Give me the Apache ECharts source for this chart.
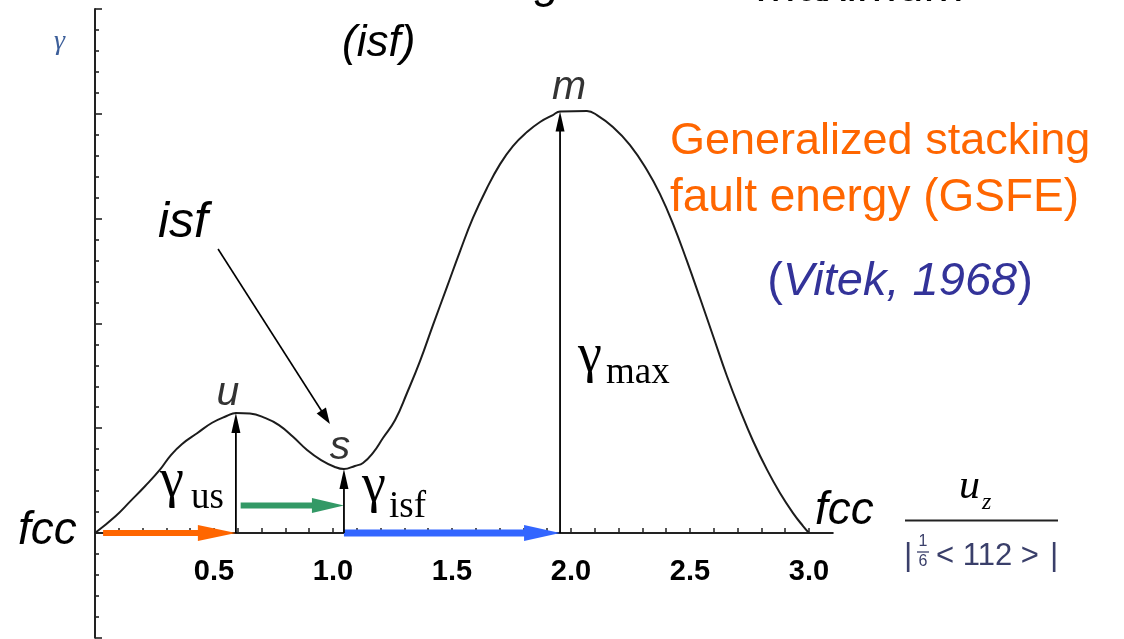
<!DOCTYPE html>
<html>
<head>
<meta charset="utf-8">
<title>Generalized stacking fault energy (GSFE)</title>
<script src="https://cdn.jsdelivr.net/npm/echarts@6.0.0/dist/echarts.min.js"></script>
<style>
  html, body { margin: 0; padding: 0; background: #ffffff; }
  #chart { width: 1124px; height: 639px; }
</style>
</head>
<body>
<div id="chart"></div>
<script>
// GSFE curve: displacement u_z in units of |1/6<112>| versus energy gamma (arb. units)
const gsfeX = [0.000, 0.086, 0.148, 0.210, 0.273, 0.319, 0.366, 0.429, 0.492, 0.553,
               0.592, 0.651, 0.714, 0.773, 0.832, 0.891, 0.950, 1.008, 1.046, 1.092,
               1.126, 1.168, 1.210, 1.261, 1.311, 1.366, 1.420, 1.479, 1.534, 1.588,
               1.647, 1.702, 1.756, 1.815, 1.870, 1.924, 1.954, 2.067, 2.109, 2.176,
               2.248, 2.319, 2.374, 2.429, 2.487, 2.542, 2.597, 2.655, 2.710, 2.765,
               2.824, 2.878, 2.933, 2.975, 3.000];
const gsfeY = [0.000, 0.080, 0.151, 0.223, 0.302, 0.372, 0.425, 0.476, 0.526, 0.558,
               0.573, 0.570, 0.549, 0.515, 0.459, 0.396, 0.348, 0.315, 0.305, 0.320,
               0.334, 0.382, 0.453, 0.539, 0.668, 0.821, 0.992, 1.174, 1.345, 1.503,
               1.646, 1.760, 1.846, 1.913, 1.961, 1.994, 2.011, 2.013, 1.994, 1.937,
               1.851, 1.732, 1.617, 1.474, 1.298, 1.121, 0.940, 0.749, 0.587, 0.439,
               0.301, 0.191, 0.095, 0.033, 0.000];

// Characteristic points of the curve: unstable (u), intrinsic fault (s), maximum (m)
const keyNames = ['u', 's', 'm'];
const keyX = [0.592, 1.046, 1.954];
const keyY = [0.573, 0.305, 2.011];

// Tick labels of the displacement axis
const xTickValues = [0.5, 1.0, 1.5, 2.0, 2.5, 3.0];
const xTickLabels = ['0.5', '1.0', '1.5', '2.0', '2.5', '3.0'];

// Slip path (fcc -> u -> s -> m) and the annotation pointer to the isf point
const slipStartX = 0.034;
const slipUsLevel = 0.131;
const isfPointerFrom = [0.517, 1.355];
const isfPointerTo = [0.987, 0.520];

const SANS = '"Liberation Sans", Arial, sans-serif';
const SERIF = '"Liberation Serif", "Times New Roman", serif';

const U = [keyX[0], keyY[0]], S = [keyX[1], keyY[1]], M = [keyX[2], keyY[2]];
const arrowSegments = [
  [slipStartX, 0, U[0], 0],
  [U[0] + 0.02, slipUsLevel, S[0], slipUsLevel],
  [S[0], 0, M[0], 0],
  [U[0], 0, U[0], U[1]],
  [S[0], 0, S[0], S[1]],
  [M[0], 0, M[0], M[1]],
  [isfPointerFrom[0], isfPointerFrom[1], isfPointerTo[0], isfPointerTo[1]]
];
const arrowKinds = ['orange', 'green', 'blue', 'gamma', 'gamma', 'gamma', 'pointer'];
const arrowStyles = {
  orange:  { color: '#ff6600', width: 6,   headLen: 38, headW: 16 },
  green:   { color: '#339966', width: 6,   headLen: 32, headW: 15 },
  blue:    { color: '#3366ff', width: 7,   headLen: 36, headW: 16 },
  gamma:   { color: '#000000', width: 1.8, headLen: 20, headW: 9 },
  pointer: { color: '#000000', width: 1.6, headLen: 16, headW: 11 }
};

function renderArrow(params, api) {
  const a = api.coord([api.value(0), api.value(1)]);
  const b = api.coord([api.value(2), api.value(3)]);
  const st = arrowStyles[arrowKinds[params.dataIndex]];
  const dx = b[0] - a[0], dy = b[1] - a[1];
  const len = Math.hypot(dx, dy) || 1;
  const ux = dx / len, uy = dy / len, px = -uy, py = ux;
  const bx = b[0] - ux * st.headLen, by = b[1] - uy * st.headLen;
  const sx = b[0] - ux * st.headLen * 0.5, sy = b[1] - uy * st.headLen * 0.5;
  const hw = st.headW / 2;
  return {
    type: 'group',
    children: [
      { type: 'line', shape: { x1: a[0], y1: a[1], x2: sx, y2: sy },
        style: { stroke: st.color, lineWidth: st.width } },
      { type: 'polygon',
        shape: { points: [[b[0], b[1]], [bx + px * hw, by + py * hw], [bx - px * hw, by - py * hw]] },
        style: { fill: st.color } }
    ]
  };
}

// Free-standing text of the diagram
function txt(text, x, y, font, fill, align) {
  return {
    type: 'text', silent: true,
    style: { text: text, x: x, y: y, font: font, fill: fill, align: align || 'left', verticalAlign: 'middle' }
  };
}
const italic = (size) => 'italic ' + size + 'px ' + SANS;
const serif = (size) => size + 'px ' + SERIF;
const DENOM = '#3a3f6a';

const graphics = [
  txt('Intrinsic stacking', 560, -16, italic(46), '#000', 'right'),
  txt('maximum', 758, -12.6, italic(48), '#000'),
  txt('(isf)', 342, 44, italic(44), '#000'),
  txt('isf', 158, 223, italic(50), '#000'),
  txt('γ', 54, 42, 'italic 28px ' + SERIF, '#3d5f9a'),
  txt('fcc', 18, 531, italic(46), '#000'),
  txt('fcc', 815, 511, italic(46), '#000'),
  txt('Generalized stacking', 670, 142, '45px ' + SANS, '#ff6600'),
  txt('fault energy (GSFE)', 670, 198, '46px ' + SANS, '#ff6600'),
  {
    type: 'text', silent: true,
    style: {
      text: '{n|(}{i|Vitek, 1968}{n|)}', x: 900, y: 282, align: 'center', verticalAlign: 'middle',
      rich: {
        n: { font: '47px ' + SANS, fill: '#333399' },
        i: { font: italic(47), fill: '#333399' }
      }
    }
  },
  txt('γ', 160, 482, serif(54), '#000'),
  txt('us', 191, 498, serif(37), '#000'),
  txt('γ', 362, 487, serif(54), '#000'),
  txt('isf', 389, 507, serif(37), '#000'),
  txt('γ', 578, 357, serif(54), '#000'),
  txt('max', 606, 373, serif(37), '#000'),
  // axis quantity: u_z / |1/6 <112>|
  txt('u', 959, 487, 'italic 42px ' + SERIF, '#000'),
  txt('z', 982, 503, 'italic 24px ' + SERIF, '#000'),
  { type: 'line', silent: true, shape: { x1: 905, y1: 520.5, x2: 1058, y2: 520.5 },
    style: { stroke: '#222', lineWidth: 2 } },
  txt('|', 904, 556, '32px ' + SANS, DENOM),
  txt('1', 923, 542, '16px ' + SANS, DENOM, 'center'),
  { type: 'line', silent: true, shape: { x1: 917, y1: 552, x2: 929, y2: 552 },
    style: { stroke: DENOM, lineWidth: 1.3 } },
  txt('6', 923, 562, '16px ' + SANS, DENOM, 'center'),
  txt('< 112 >', 936, 556, '31px ' + SANS, DENOM),
  txt('|', 1050, 556, '32px ' + SANS, DENOM)
];

const axisColor = '#222';
const chart = echarts.init(document.getElementById('chart'), null, { renderer: 'canvas' });
chart.setOption({
  animation: false,
  backgroundColor: '#ffffff',
  // upper panel: gamma >= 0 with the displacement axis on its bottom edge;
  // lower panel: continuation of the gamma axis below zero
  grid: [
    { left: 95, top: 9, width: 737.8, height: 524, containLabel: false, outerBoundsMode: 'none' },
    { left: 95, top: 533, width: 737.8, height: 104.8, containLabel: false, outerBoundsMode: 'none' }
  ],
  xAxis: [
    {
      gridIndex: 0, type: 'value', min: 0, max: 3.1, interval: 0.1,
      axisLine: { show: true, onZero: false, lineStyle: { color: axisColor, width: 2 } },
      axisTick: { show: true, inside: true, length: 5, lineStyle: { color: axisColor, width: 1.5 } },
      axisLabel: {
        show: true, margin: 24, fontFamily: SANS, fontWeight: 'bold', fontSize: 29, color: '#000',
        showMinLabel: false, showMaxLabel: false, hideOverlap: false,
        formatter: function (v) {
          const i = xTickValues.findIndex(t => Math.abs(t - v) < 1e-6);
          return i >= 0 ? xTickLabels[i] : '';
        }
      },
      splitLine: { show: false }
    },
    { gridIndex: 1, type: 'value', min: 0, max: 3.1, show: false }
  ],
  yAxis: [
    {
      gridIndex: 0, type: 'value', min: 0, max: 2.5, interval: 0.5,
      axisLine: { show: true, onZero: false, lineStyle: { color: axisColor, width: 2 } },
      axisTick: { show: true, inside: true, length: 7, lineStyle: { color: axisColor, width: 1.6 } },
      minorTick: { show: true, splitNumber: 5, length: 4, lineStyle: { color: axisColor, width: 1.6 } },
      axisLabel: { show: false },
      splitLine: { show: false }
    },
    {
      gridIndex: 1, type: 'value', min: -0.5, max: 0, interval: 0.5,
      axisLine: { show: true, onZero: false, lineStyle: { color: axisColor, width: 2 } },
      axisTick: { show: true, inside: true, length: 7, lineStyle: { color: axisColor, width: 1.6 } },
      minorTick: { show: true, splitNumber: 5, length: 4, lineStyle: { color: axisColor, width: 1.6 } },
      axisLabel: { show: false },
      splitLine: { show: false }
    }
  ],
  series: [
    {
      name: 'GSFE', type: 'line', smooth: 0.45, clip: false,
      showSymbol: false, silent: true, z: 3,
      data: gsfeX.map((x, i) => [x, gsfeY[i]]),
      lineStyle: { color: '#1c1c1c', width: 2 }
    },
    {
      name: 'paths', type: 'custom', renderItem: renderArrow, silent: true, z: 4, clip: false,
      encode: { x: [0, 2], y: [1, 3] },
      data: arrowSegments
    },
    {
      name: 'points', type: 'scatter', symbolSize: 0, silent: true, z: 5,
      data: keyX.map((x, i) => [x, keyY[i]]),
      label: {
        show: true, position: 'top', distance: 0,
        formatter: p => keyNames[p.dataIndex],
        fontFamily: SANS, fontStyle: 'italic', fontSize: 41, color: '#000'
      },
      labelLayout: function (p) {
        const shifts = [[-8, 1], [-4, -1], [9, -3]];
        return { dx: shifts[p.dataIndex][0], dy: shifts[p.dataIndex][1] };
      }
    }
  ],
  graphic: graphics
});
</script>
</body>
</html>
